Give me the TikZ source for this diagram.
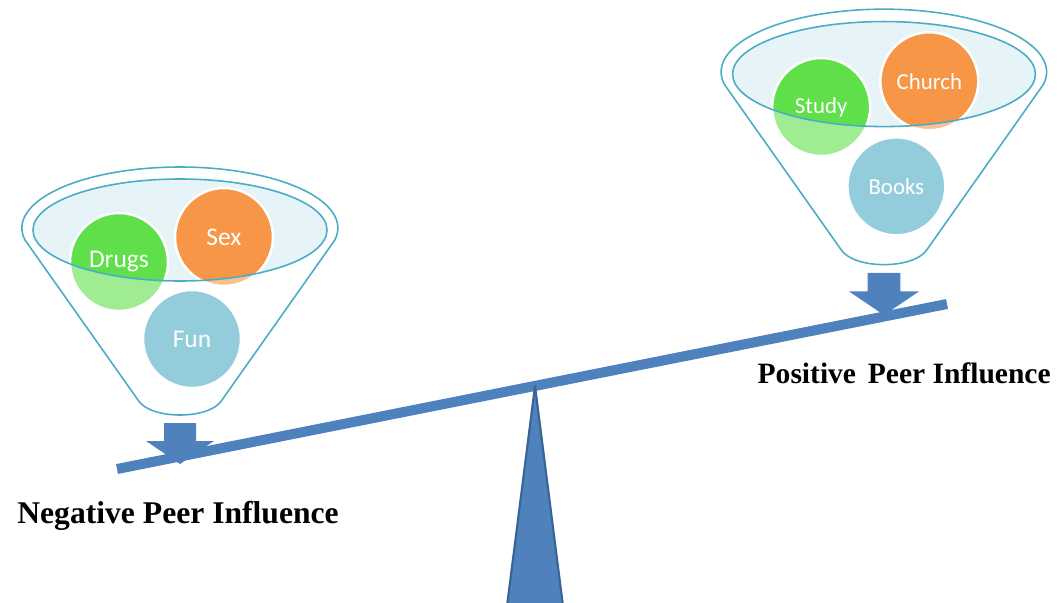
\documentclass[tikz,border=0pt]{standalone}
\usepackage{fontspec}
\usepackage{tikz}
\setmainfont{Liberation Serif}
\newfontfamily\bubblefont{Carlito}

\definecolor{beamblue}{HTML}{4F81BD}
\definecolor{beamedge}{HTML}{3A6494}
\definecolor{funnelteal}{HTML}{4BACC6}
\definecolor{bubblegreen}{HTML}{5FE04A}
\definecolor{bubbleorange}{HTML}{F79646}
\definecolor{bubbleblue}{HTML}{4BACC6}

% outline of one funnel, around the centre of its rim
\newcommand{\funneloutline}{(-155,12) arc[start angle=168.65, end angle=371.35, x radius=158, y radius=61]
  -- (42,172) .. controls (30,192) and (-30,192) .. (-42,172) -- cycle}
\newcommand{\funnelrim}{(0,2) ellipse [x radius=147, y radius=51]}

% #1 name, #2 #3 #4 texts of the bubbles
\newcommand{\drawfunnel}[4]{
  \fill[funnelteal!14] \funnelrim;
  \node[bubble,fill=bubblegreen] (#1-green) at (-61,34) {#2};
  \node[bubble,fill=bubbleorange] (#1-orange) at (44,9) {#3};
  \node[bubble,fill=bubbleblue] (#1-blue) at (12,111) {#4};
  \fill[white,fill opacity=0.4,even odd rule] \funneloutline \funnelrim;
  \draw[funnelline] \funnelrim;
  \draw[funnelline] \funneloutline;
  % arrow under the funnel
  \fill[beamblue] (-16,195) -- (16,195) -- (16,213) -- (34,213) -- (0,236)
    -- (-34,213) -- (-16,213) -- cycle;
}

\begin{document}
\begin{tikzpicture}[x=0.02cm,y=-0.02cm]
\tikzstyle{bubble}=[circle,draw=white,line width=1.4pt,minimum size=1.96cm,inner sep=0pt,
  text=white,font=\bubblefont\fontsize{13}{15}\selectfont];
\tikzstyle{funnelline}=[draw=funnelteal,line width=0.9pt];
\tikzstyle{side}=[inner sep=0pt,font=\fontsize{18}{20}\selectfont\bfseries];
\useasboundingbox (0,0) rectangle (1058,602);

\begin{scope}[shift={(180,228)},bubble/.append style={font=\bubblefont\fontsize{14.5}{16}\selectfont}]
\drawfunnel{neg}{Drugs}{Sex}{Fun}
\end{scope}
\begin{scope}[shift={(884,72)},scale=1.03]
\drawfunnel{pos}{Study}{Church}{Books}
\end{scope}

% the seesaw
\coordinate (beam-left) at (117,469);
\coordinate (beam-right) at (947,304);
\coordinate (pivot) at (535,386);
\draw[beamblue,line width=5.7pt] (beam-left) -- (beam-right);
\filldraw[fill=beamblue,draw=beamedge,line width=1.2pt,line join=round]
  (pivot) -- (563,606) -- (507,606) -- cycle;

\node[side,anchor=base west] (neg-label) at (17,523) {Negative Peer Influence};
\node[side,anchor=base east,font=\fontsize{16.8}{20}\selectfont\bfseries] (pos-label) at (1051,383) {Positive\hspace{0.4em}Peer Influence};
\end{tikzpicture}
\end{document}
